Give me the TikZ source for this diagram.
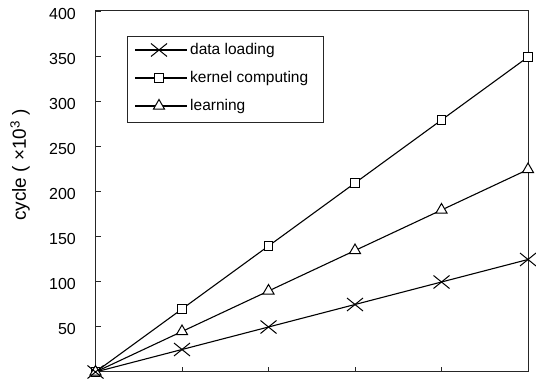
\documentclass[tikz,border=0pt]{standalone}
\usepackage{fontspec}
\setmainfont{Liberation Sans}
\usetikzlibrary{shapes.geometric,shapes.misc}
\begin{document}
\begin{tikzpicture}[x=1pt,y=-1pt,
  axisline/.style={line width=1pt,black!85},
  dataline/.style={line width=1.1pt,black},
  sqmark/.style={draw,line width=1pt,fill=white,rectangle,minimum size=8.5pt,inner sep=0pt},
  trimark/.style={draw,line width=1pt,fill=white,regular polygon,regular polygon sides=3,minimum size=13pt,inner sep=0pt},
  xmark/.style={draw,line width=1pt,cross out,minimum width=15pt,minimum height=12pt,inner sep=0pt},
  ticklbl/.style={anchor=east,font=\fontsize{16}{19}\selectfont,inner sep=0pt},
  legtext/.style={anchor=west,font=\fontsize{15.5}{18}\selectfont,inner sep=0pt}]
\useasboundingbox (0,0) rectangle (536,379);
% axes box
\coordinate (bl) at (95.5,372);
\coordinate (tr) at (528,11);
\draw[axisline] (bl) rectangle (tr);
% y ticks and labels
\foreach \v in {50,100,...,400}{
  \pgfmathsetmacro{\yy}{372-0.9*\v}
  \coordinate (yt\v) at (95.5,\yy);
  \coordinate (ye\v) at (101,\yy);
  \draw[axisline] (yt\v) -- (ye\v);
  \node[ticklbl] (yl\v) at (76,\yy+2) {\v};
}
% x ticks
\foreach \i in {1,2,3,4}{
  \pgfmathsetmacro{\xx}{95.5+86.5*\i}
  \coordinate (xt\i) at (\xx,372);
  \coordinate (xe\i) at (\xx,367);
  \draw[axisline] (xt\i) -- (xe\i);
}
% y label
\node[rotate=90,font=\fontsize{19}{22}\selectfont] (ylab) at (20,165) {cycle ( ×10\textsuperscript{3} )};
% data coordinates
\foreach \i in {0,...,5}{
  \pgfmathsetmacro{\xx}{95.5+86.5*\i}
  \coordinate (k\i) at (\xx,{372-0.9*70*\i});
  \coordinate (l\i) at (\xx,{372-0.9*45*\i});
  \coordinate (d\i) at (\xx,{372-0.9*25*\i});
}
\draw[dataline] (k0)--(k1)--(k2)--(k3)--(k4)--(k5);
\draw[dataline] (l0)--(l1)--(l2)--(l3)--(l4)--(l5);
\draw[dataline] (d0)--(d1)--(d2)--(d3)--(d4)--(d5);
\foreach \i in {0,...,5}{
  \node[sqmark] (ks\i) at (k\i) {};
  \node[trimark] (lt\i) at (l\i) {};
  \node[xmark] (dx\i) at (d\i) {};
}
% legend
\node[draw,line width=1pt,black!85,minimum width=196pt,minimum height=86pt,anchor=north west,inner sep=0pt] (legend) at (127,36) {};
\coordinate (la1) at (135,50); \coordinate (lb1) at (187,50);
\coordinate (la2) at (135,78); \coordinate (lb2) at (187,78);
\coordinate (la3) at (135,106); \coordinate (lb3) at (187,106);
\draw[dataline] (la1) -- (lb1);
\draw[dataline] (la2) -- (lb2);
\draw[dataline] (la3) -- (lb3);
\node[xmark] (lgx) at (159,50) {};
\node[sqmark] (lgs) at (159,78) {};
\node[trimark] (lgt) at (159,106) {};
\node[legtext] (t1) at (190,50) {data loading};
\node[legtext] (t2) at (190,78) {kernel computing};
\node[legtext] (t3) at (190,106) {learning};
\end{tikzpicture}
\end{document}
